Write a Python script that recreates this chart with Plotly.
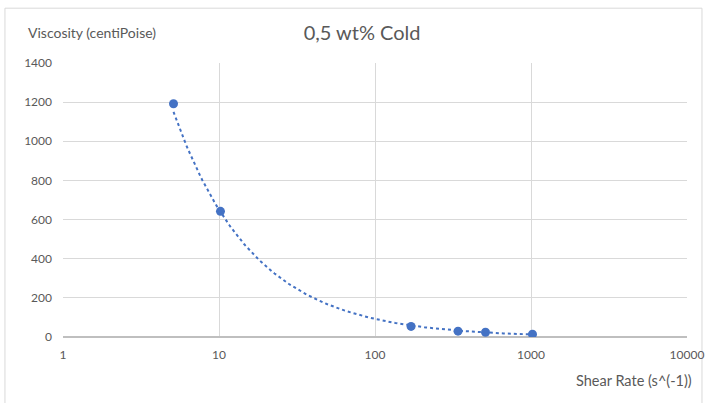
import numpy as np
import plotly.graph_objects as go

# Data
shear_rate = [5.11, 10.22, 170.3, 340.6, 511.0, 1022.0]
viscosity = [1192, 642, 54, 30, 24, 14]
x_tick_vals = [1, 10, 100, 1000, 10000]
x_tick_text = ["1", "10", "100", "1000", "10000"]
y_tick_vals = [0, 200, 400, 600, 800, 1000, 1200, 1400]

title_text = "0,5 wt% Cold"
y_title = "Viscosity (centiPoise)"
x_title = "Shear Rate (s^(-1))"

# Power trendline (as Excel computes it): fit log(y) = log(a) + b log(x)
lx = np.log10(shear_rate)
ly = np.log10(viscosity)
b, loga = np.polyfit(lx, ly, 1)
tx = np.logspace(np.log10(min(shear_rate)), np.log10(max(shear_rate)), 200)
ty = 10 ** loga * tx ** b

blue = "#4472C4"
grey_text = "#595959"
FONT = "Lato, 'Open Sans', sans-serif"

fig = go.Figure()
fig.add_trace(go.Scatter(x=tx, y=ty, mode="lines",
                         line=dict(color=blue, width=2, dash="dot"),
                         hoverinfo="skip", showlegend=False))
fig.add_trace(go.Scatter(x=shear_rate, y=viscosity, mode="markers",
                         marker=dict(color=blue, size=9),
                         showlegend=False))

fig.update_layout(
    width=710, height=403,
    margin=dict(l=63, r=23, t=63, b=66, autoexpand=False),
    paper_bgcolor="white", plot_bgcolor="white",
    font=dict(family=FONT, color=grey_text, size=12),
    title=dict(text=title_text, x=0.51, xanchor="center", y=0.918, yanchor="middle",
               font=dict(family=FONT, size=20, color=grey_text)),
    xaxis=dict(type="log", range=[0, 4], tickvals=x_tick_vals, ticktext=x_tick_text,
               showgrid=True, gridcolor="#d9d9d9", gridwidth=1,
               zeroline=False, showline=False, ticks="", automargin=False,
               ticklabelstandoff=9,
               tickfont=dict(size=12, color=grey_text)),
    yaxis=dict(range=[0, 1400], tickvals=y_tick_vals,
               showgrid=True, gridcolor="#d9d9d9", gridwidth=1,
               zeroline=True, zerolinecolor="#bfbfbf", zerolinewidth=1.5,
               showline=False, ticks="", automargin=False,
               ticklabelstandoff=10,
               tickfont=dict(size=12, color=grey_text)),
    annotations=[
        dict(text=y_title, xref="paper", yref="paper", x=-0.06, y=1.11,
             xanchor="left", yanchor="middle", showarrow=False,
             font=dict(size=14, color=grey_text, family=FONT)),
        dict(text=x_title, xref="paper", yref="paper", x=1.012, y=-0.16,
             xanchor="right", yanchor="middle", showarrow=False,
             font=dict(size=14.5, color=grey_text, family=FONT)),
    ],
    shapes=[
        dict(type="rect", xref="paper", yref="paper",
             x0=-0.093, x1=1.024, y0=-0.25, y1=1.2,
             line=dict(color="#d9d9d9", width=1), layer="below"),
    ],
)

fig.write_html("out.html", config={"displayModeBar": False},
               post_script="document.body.style.margin='0';document.body.style.overflow='hidden';")
